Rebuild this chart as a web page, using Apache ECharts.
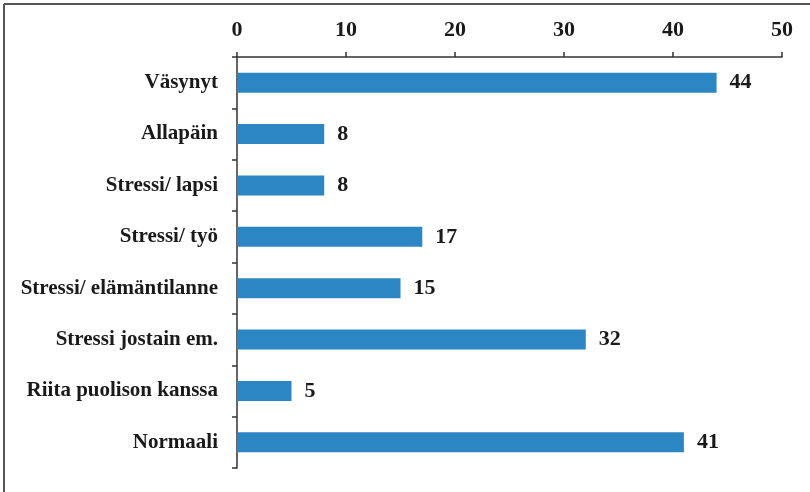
<!DOCTYPE html>
<html>
<head>
<meta charset="utf-8">
<script src="https://cdn.jsdelivr.net/npm/echarts@6/dist/echarts.min.js"></script>
<style>
  html, body { margin: 0; padding: 0; background: #fff; }
  #chart { width: 810px; height: 492px; }
</style>
</head>
<body>
<div id="chart"></div>
<script>
// categories and values, top to bottom
var categories = ['Väsynyt', 'Allapäin', 'Stressi/ lapsi', 'Stressi/ työ',
  'Stressi/ elämäntilanne', 'Stressi jostain em.', 'Riita puolison kanssa', 'Normaali'];
var values = [44, 8, 8, 17, 15, 32, 5, 41];
var xTicks = [0, 10, 20, 30, 40, 50];

var font = '"Liberation Serif", "Times New Roman", serif';
var chart = echarts.init(document.getElementById('chart'));

chart.setOption({
  animation: false,
  backgroundColor: '#fff',
  grid: { left: 237, top: 57, right: 28, bottom: 24, containLabel: false },
  xAxis: {
    type: 'value',
    position: 'top',
    min: xTicks[0],
    max: xTicks[xTicks.length - 1],
    interval: 10,
    axisLine: { show: true, lineStyle: { color: '#333', width: 1.5 } },
    axisTick: { show: true, inside: false, length: 5, lineStyle: { color: '#333', width: 1.5 } },
    axisLabel: { margin: 16, color: '#1a1a1a', fontFamily: font, fontWeight: 'bold', fontSize: 22 },
    splitLine: { show: false }
  },
  yAxis: {
    type: 'category',
    data: categories,
    inverse: true,
    axisLine: { show: true, lineStyle: { color: '#333', width: 1.5 } },
    axisTick: { show: true, length: 5, lineStyle: { color: '#333', width: 1.5 } },
    axisLabel: { margin: 19, color: '#1a1a1a', fontFamily: font, fontWeight: 'bold', fontSize: 21 }
  },
  series: [{
    type: 'bar',
    data: values,
    barWidth: 20,
    itemStyle: { color: '#2b86c3' },
    label: {
      show: true,
      position: 'right',
      distance: 13,
      color: '#1a1a1a',
      fontFamily: font,
      fontWeight: 'bold',
      fontSize: 22
    }
  }],
  graphic: [
    { type: 'line', shape: { x1: 4, y1: 4, x2: 810, y2: 4 }, style: { stroke: '#555', lineWidth: 2 } },
    { type: 'line', shape: { x1: 4, y1: 4, x2: 4, y2: 492 }, style: { stroke: '#555', lineWidth: 2 } }
  ]
});
</script>
</body>
</html>
